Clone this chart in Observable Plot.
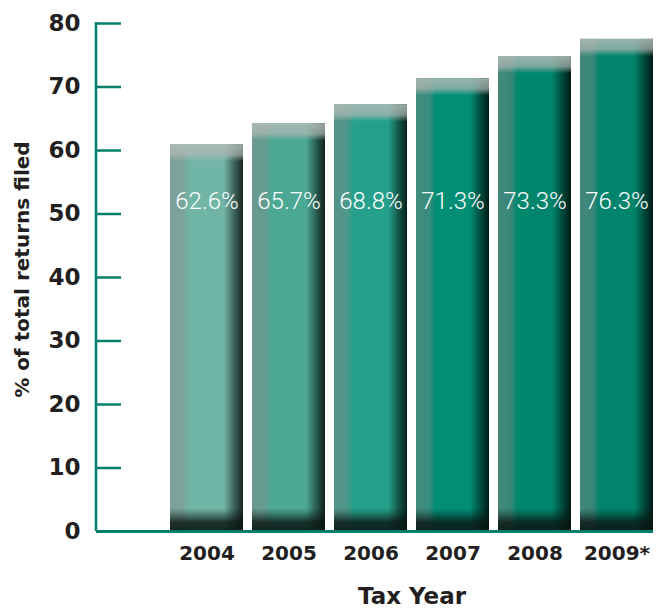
<!DOCTYPE html>
<html><head><meta charset="utf-8">
<script src="https://cdn.jsdelivr.net/npm/d3@7"></script>
<script src="https://cdn.jsdelivr.net/npm/@observablehq/plot@0.6"></script>
<style>
body{margin:0;background:#fff;}
#chart svg{display:block;}
</style>
</head><body>
<svg width="0" height="0" style="position:absolute">
<defs>
<linearGradient id="side" x1="0" x2="1" y1="0" y2="0">
 <stop offset="0" stop-color="#8a8a8a" stop-opacity="0.5"/>
 <stop offset="0.18" stop-color="#8a8a8a" stop-opacity="0.4"/>
 <stop offset="0.27" stop-color="#8a8a8a" stop-opacity="0"/>
 <stop offset="0.74" stop-color="#000" stop-opacity="0"/>
 <stop offset="0.88" stop-color="#000" stop-opacity="0.45"/>
 <stop offset="1" stop-color="#000" stop-opacity="0.8"/>
</linearGradient>
<linearGradient id="topband" x1="0" x2="0" y1="0" y2="1">
 <stop offset="0" stop-color="#b4bcb8" stop-opacity="0.85"/>
 <stop offset="0.6" stop-color="#b0b8b4" stop-opacity="0.7"/>
 <stop offset="1" stop-color="#b0b8b4" stop-opacity="0"/>
</linearGradient>
<linearGradient id="botband" x1="0" x2="0" y1="0" y2="1">
 <stop offset="0" stop-color="#0a1512" stop-opacity="0"/>
 <stop offset="0.3" stop-color="#0a1512" stop-opacity="0.35"/>
 <stop offset="0.6" stop-color="#0a1512" stop-opacity="0.8"/>
 <stop offset="1" stop-color="#0a1512" stop-opacity="0.9"/>
</linearGradient>
</defs></svg>
<div id="chart"></div>
<script>
const years = ["2004", "2005", "2006", "2007", "2008", "2009*"];
const heights = [60.9, 64.2, 67.2, 71.3, 74.8, 77.5];
const labels = ["62.6%", "65.7%", "68.8%", "71.3%", "73.3%", "76.3%"];
const barColors = ["#70b5a6", "#4ba894", "#25a08a", "#008e75", "#00866d", "#00846c"];
const yTicks = [0, 10, 20, 30, 40, 50, 60, 70, 80];
const yTitle = "% of total returns filed";
const xTitle = "Tax Year";

const green = "#00806a";
const ink = "#231f20";
const W = 657, H = 609, mL = 96, mR = 4, mT = 23, mB = 78;

const rows = years.map((y, i) => ({year: y, h: heights[i], label: labels[i], color: barColors[i]}));

// y-axis line drawn with the library's y scale
function yAxisLine(index, scales, values, dimensions) {
  const ns = "http://www.w3.org/2000/svg";
  const line = document.createElementNS(ns, "line");
  const [d0, d1] = scales.scales.y.domain;
  line.setAttribute("x1", dimensions.marginLeft);
  line.setAttribute("x2", dimensions.marginLeft);
  line.setAttribute("y1", scales.y(d0));
  line.setAttribute("y2", scales.y(d1) - 1);
  line.setAttribute("stroke", green);
  line.setAttribute("stroke-width", 2.5);
  return line;
}

const chart = Plot.plot({
  width: W, height: H,
  marginLeft: mL, marginRight: mR, marginTop: mT, marginBottom: mB,
  style: {background: "#fff", color: ink},
  x: {domain: years, range: [170, 653], paddingInner: 0.11, paddingOuter: 0, label: null},
  y: {domain: [0, 80], label: null},
  color: {type: "identity"},
  marks: [
    Plot.barY(rows, {x: "year", y: "h", fill: "color"}),
    Plot.barY(rows, {x: "year", y: "h", fill: "url(#side)"}),
    Plot.barY(rows, {x: "year", y1: d => d.h - 2.7, y2: "h", fill: "url(#topband)"}),
    Plot.barY(rows, {x: "year", y1: 0, y2: 3.6, fill: "url(#botband)"}),
    Plot.text(rows, {x: "year", y: () => 52, text: "label", fill: "#fff",
      fontSize: 24, fontFamily: "Roboto, Liberation Sans, sans-serif", fontWeight: 300}),
    Plot.ruleY(yTicks.filter(d => d > 0), {y: d => d, stroke: green, strokeWidth: 2.5,
      insetRight: (W - mL - mR) - 25}),
    Plot.ruleY([0], {stroke: green, strokeWidth: 3}),
    yAxisLine,
    Plot.axisY(yTicks, {tickSize: 0, tickPadding: 16,
      fill: ink, fontSize: 23, fontWeight: "bold", fontFamily: "DejaVu Sans, sans-serif", label: null}),
    Plot.axisX({tickSize: 0, tickPadding: 14, fill: ink, fontSize: 20, fontWeight: "bold",
      fontFamily: "DejaVu Sans, sans-serif", label: null}),
    Plot.text([yTitle], {frameAnchor: "left", textAnchor: "middle", rotate: -90, dx: -74, dy: -8, fill: ink,
      fontSize: 20, fontWeight: "bold", fontFamily: "DejaVu Sans, sans-serif"}),
    Plot.text([xTitle], {frameAnchor: "bottom", dx: 37, dy: 72, fill: ink,
      fontSize: 23, fontWeight: "bold", fontFamily: "DejaVu Sans, sans-serif"})
  ]
});
document.getElementById("chart").appendChild(chart);
</script>
</body></html>
